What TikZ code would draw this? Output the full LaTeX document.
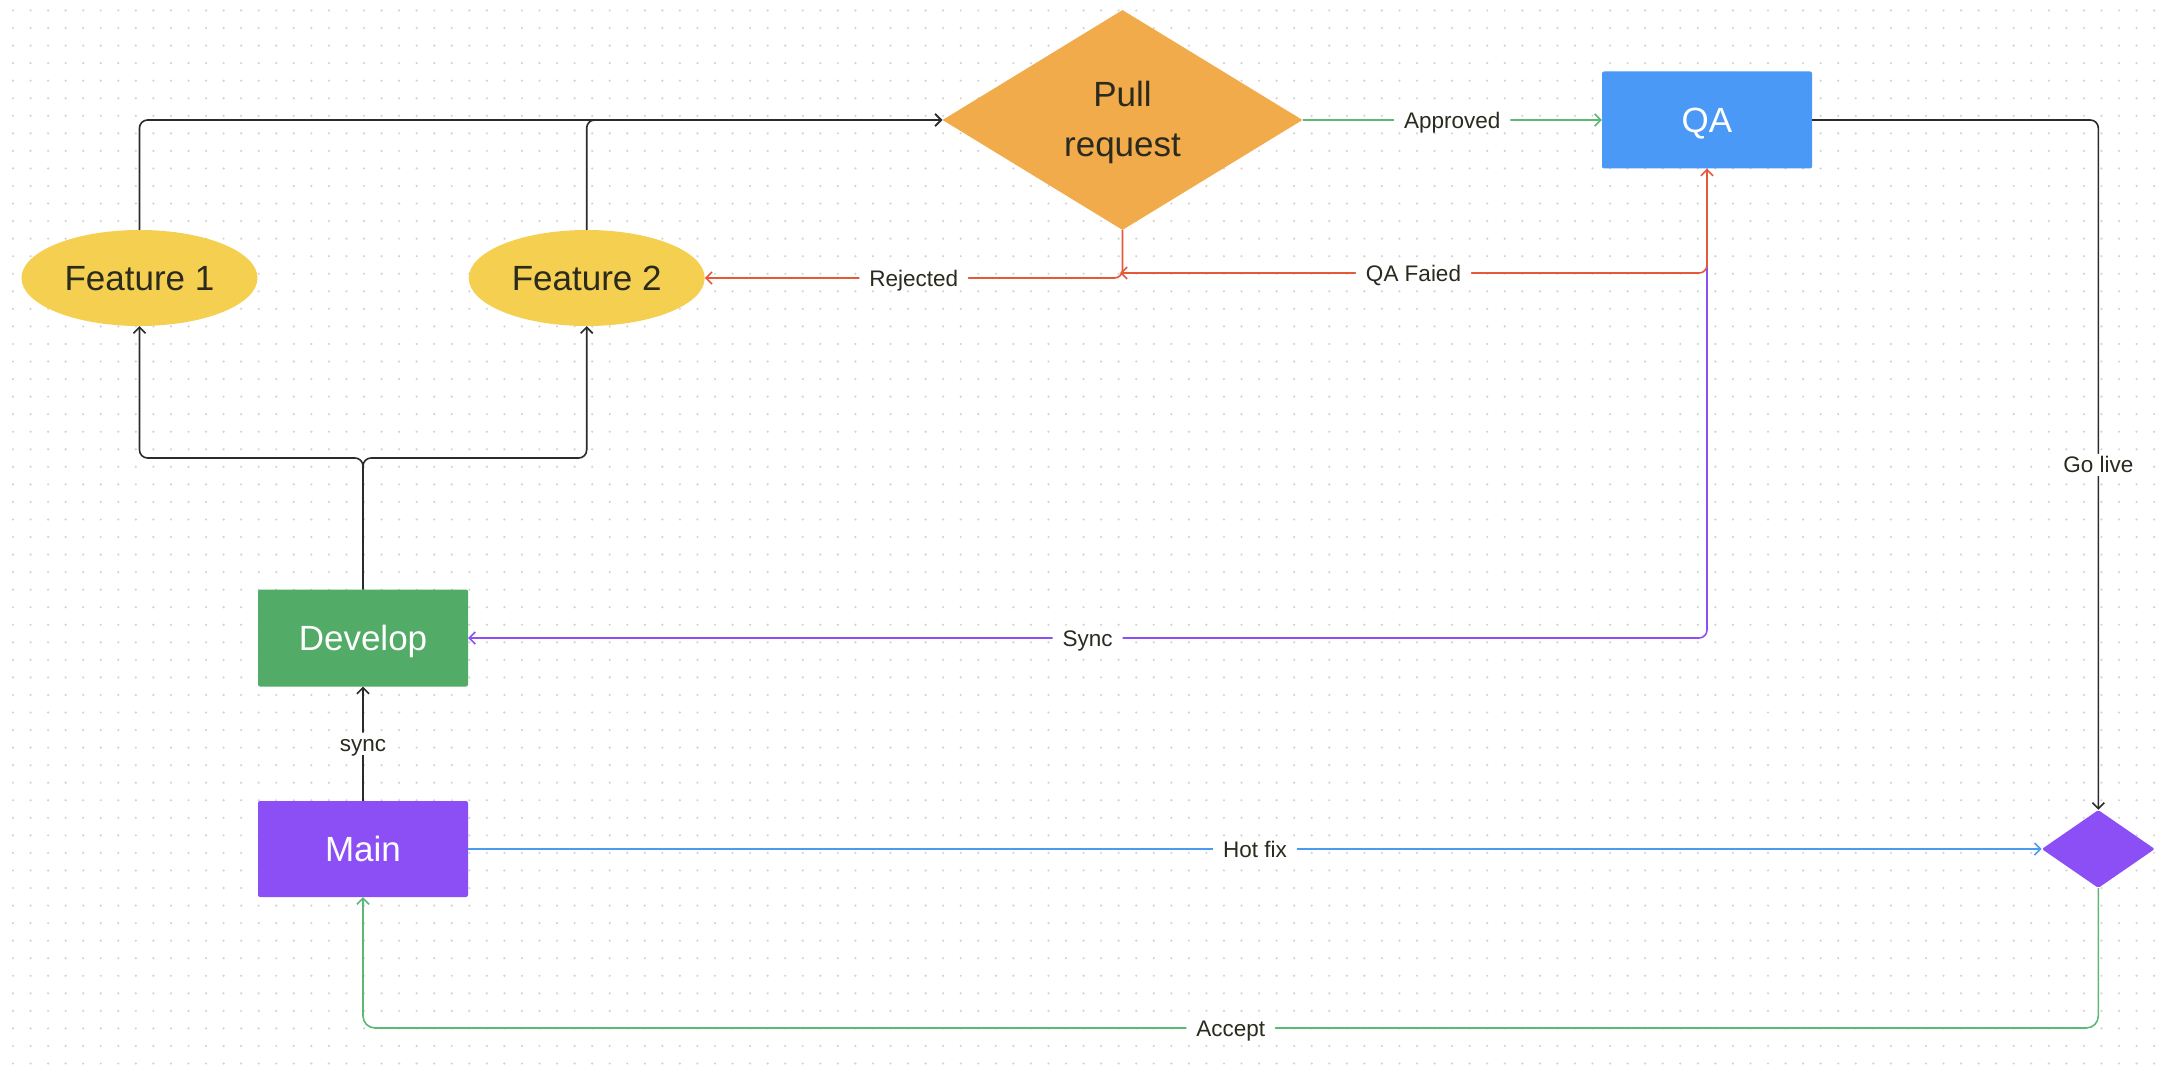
\documentclass[tikz,border=0pt]{standalone}
\usepackage{fontspec}
\setmainfont{Liberation Sans}
\usetikzlibrary{shapes.geometric,arrows.meta,calc}

\definecolor{featY}{HTML}{F5CF50}
\definecolor{prO}{HTML}{F2AB4A}
\definecolor{qaB}{HTML}{4A99F7}
\definecolor{devG}{HTML}{52AB66}
\definecolor{mainP}{HTML}{8C4FF5}
\definecolor{lnRed}{HTML}{E5583A}
\definecolor{lnGreen}{HTML}{5CB874}
\definecolor{lnBlue}{HTML}{4A9BF0}
\definecolor{lnPurple}{HTML}{8C4FF5}
\definecolor{lnBlack}{HTML}{2B2B2B}
\definecolor{dotc}{HTML}{D2D2D2}
\definecolor{txtD}{HTML}{2A2A1E}

\begin{document}
\begin{tikzpicture}[x=1pt,y=-1pt,
  bigtext/.style={font=\fontsize{35}{50.5}\selectfont},
  capc/.style={text height=25pt, text depth=0pt},
  lbl/.style={font=\fontsize{22.5}{27}\selectfont, text=txtD, fill=white, inner xsep=10pt, inner ysep=3pt, text height=16.1pt, text depth=0pt},
  feat/.style={ellipse, fill=featY, minimum width=236pt, minimum height=96pt, inner sep=0pt, bigtext, capc, text=txtD},
  box/.style={rectangle, rounded corners=2pt, minimum width=210pt, minimum height=97pt, inner sep=0pt, bigtext, capc, text=white},
  tipA/.tip={Straight Barb[length=6pt,width=12pt]},
  conn/.style={line width=1.6pt, rounded corners=8pt, -tipA},
]
\useasboundingbox (0,0) rectangle (2170,1078);
\fill[white] (0,0) rectangle (2170,1078);
\foreach \j in {0,...,60} {
  \fill[dotc] \foreach \i in {0,...,122} { (13+17.55*\i, 10.5+17.55*\j) circle (1.2) };
}

% nodes
\node[feat] (f1) at (139.5,278) {Feature 1};
\node[feat] (f2) at (586.7,278) {Feature 2};
\node[diamond, fill=prO, minimum width=360pt, minimum height=220pt, aspect=1.636, inner sep=0pt, bigtext, text=txtD, align=center, text height=75.5pt, text depth=2pt] (pr) at (1122.5,120) {Pull\\request};
\node[box, fill=qaB] (qa) at (1707,120) {QA};
\node[box, fill=devG] (dev) at (363,638) {Develop};
\node[box, fill=mainP, minimum height=96pt] (main) at (363,849) {Main};
\node[diamond, fill=mainP, minimum width=113pt, minimum height=78pt, aspect=1.45, inner sep=0pt, rounded corners=2pt] (hd) at (2098.3,849) {};

% connectors
\draw[conn, lnBlack] (f1.north) |- (pr.west);
\draw[conn, lnBlack] (f2.north) |- (pr.west);

\coordinate (split) at (0,458);
\draw[conn, lnBlack] (dev.north) -- (dev.north |- split) -| (f1.south);
\draw[conn, lnBlack] (dev.north) -- (dev.north |- split) -| (f2.south);

\draw[conn, lnBlack] (main.north) -- node[lbl]{sync} (dev.south);

\draw[conn, lnGreen] (pr.east) -- node[lbl]{Approved} (qa.west);
\draw[conn, lnBlack] (qa.east) -| node[lbl,pos=0.75]{Go live} (hd.north);
\draw[conn, lnPurple] (qa.south) |- node[lbl,pos=0.75]{Sync} (dev.east);
\draw[conn, lnRed] (pr.south) |- node[lbl,pos=0.75]{Rejected} (f2.east);
\coordinate (qafEnd) at (1120,273);
\draw[conn, lnRed, tipA-tipA] (qafEnd) -| node[lbl,pos=0.25]{QA Faied} (qa.south);

\draw[conn, lnBlue] (main.east) -- node[lbl]{Hot fix} (hd.west);
\coordinate (accY) at (0,1028);
\draw[conn, lnGreen, rounded corners=12pt] (hd.south) -- (hd.south |- accY) -- node[lbl]{Accept} (main.south |- accY) -- (main.south);
\end{tikzpicture}
\end{document}
